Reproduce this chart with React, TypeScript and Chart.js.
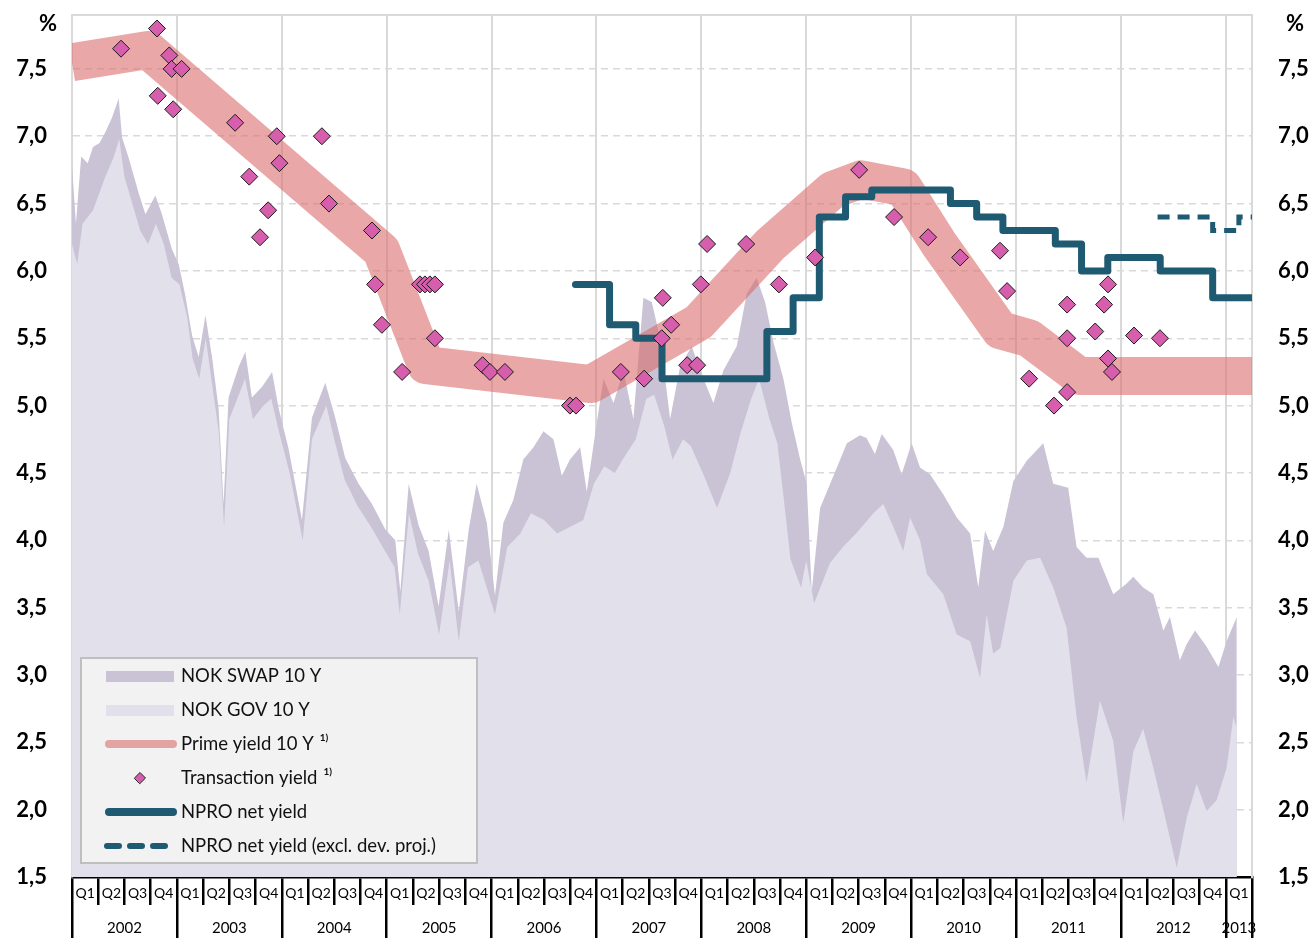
import React, { useEffect, useRef } from 'react';
import { Chart, registerables } from 'chart.js';
Chart.register(...registerables);

const FONT = 'Lato, "Open Sans", "DejaVu Sans", sans-serif';

// ---- axis labels ----
const quarterLabels = [
  'Q1', 'Q2', 'Q3', 'Q4', 'Q1', 'Q2', 'Q3', 'Q4', 'Q1', 'Q2', 'Q3', 'Q4',
  'Q1', 'Q2', 'Q3', 'Q4', 'Q1', 'Q2', 'Q3', 'Q4', 'Q1', 'Q2', 'Q3', 'Q4',
  'Q1', 'Q2', 'Q3', 'Q4', 'Q1', 'Q2', 'Q3', 'Q4', 'Q1', 'Q2', 'Q3', 'Q4',
  'Q1', 'Q2', 'Q3', 'Q4', 'Q1', 'Q2', 'Q3', 'Q4', 'Q1',
];
const yearLabels = ['2002', '2003', '2004', '2005', '2006', '2007', '2008', '2009', '2010', '2011', '2012', '2013'];
const yearBounds = [0, 4, 8, 12, 16, 20, 24, 28, 32, 36, 40, 44, 45];
const yTicks = [1.5, 2.0, 2.5, 3.0, 3.5, 4.0, 4.5, 5.0, 5.5, 6.0, 6.5, 7.0, 7.5];

// ---- NOK SWAP 10 Y (x in quarters since 2002 Q1) ----
const swapQ = [0, 0.15, 0.35, 0.6, 0.8, 1.05, 1.27, 1.53, 1.78, 1.91, 2.16, 2.54, 2.8, 3.18, 3.43, 3.81, 4.07, 4.32, 4.58, 4.83,
  5.09, 5.34, 5.59, 5.78, 5.97, 6.36, 6.61, 6.86, 7.25, 7.63, 7.88, 8.26, 8.77, 9.15, 9.66, 10.04, 10.42, 10.93, 11.44, 11.95,
  12.33, 12.52, 12.84, 13.22, 13.6, 13.98, 14.37, 14.75, 15.13, 15.43, 15.82, 16.13, 16.45, 16.83, 17.21, 17.6, 17.98, 18.36,
  18.68, 18.99, 19.38, 19.63, 20.01, 20.27, 20.65, 21.03, 21.41, 21.79, 22.11, 22.43, 22.81, 23.19, 23.63, 24.08, 24.46, 24.84,
  25.35, 25.73, 26.11, 26.43, 26.75, 27.13, 27.45, 27.77, 28.02, 28.21, 28.53, 29.04, 29.55, 30.05, 30.3, 30.62, 30.88, 31.32,
  31.64, 32.02, 32.34, 32.72, 33.23, 33.74, 34.25, 34.56, 34.82, 35.13, 35.52, 35.9, 36.41, 37.04, 37.42, 37.99, 38.31, 38.69,
  39.14, 39.71, 40.22, 40.47, 40.85, 41.24, 41.62, 41.87, 42.25, 42.51, 42.83, 43.27, 43.72, 44.03, 44.42];
const swapV = [6.78, 6.35, 6.85, 6.8, 6.92, 6.95, 7.03, 7.14, 7.28, 6.99, 6.84, 6.58, 6.42, 6.56, 6.42, 6.16, 6.05, 5.82, 5.52, 5.36,
  5.67, 5.36, 4.98, 4.27, 5.06, 5.29, 5.40, 5.06, 5.14, 5.25, 4.98, 4.68, 4.15, 4.91, 5.17, 4.91, 4.61, 4.42, 4.27, 4.08,
  4.0, 3.62, 4.42, 4.11, 3.92, 3.51, 4.08, 3.47, 4.08, 4.42, 4.13, 3.59, 4.13, 4.30, 4.60, 4.69, 4.81, 4.75,
  4.48, 4.60, 4.69, 4.36, 4.87, 5.20, 5.02, 5.26, 4.90, 5.80, 5.77, 5.50, 4.90, 5.29, 5.44, 5.20, 5.02, 5.26,
  5.44, 5.83, 5.95, 5.77, 5.47, 5.20, 4.87, 4.60, 4.42, 3.62, 4.24, 4.48, 4.72, 4.78, 4.76, 4.64, 4.79, 4.67,
  4.49, 4.72, 4.54, 4.49, 4.34, 4.17, 4.05, 3.65, 4.07, 3.92, 4.10, 4.44, 4.59, 4.72, 4.42, 4.39, 3.95, 3.87,
  3.87, 3.60, 3.68, 3.73, 3.65, 3.60, 3.33, 3.43, 3.11, 3.23, 3.33, 3.21, 3.06, 3.25, 3.43];

// ---- NOK GOV 10 Y ----
const govQ = [0, 0.2, 0.4, 0.8, 1.27, 1.6, 1.8, 2.0, 2.3, 2.6, 2.9, 3.2, 3.5, 3.8, 4.1, 4.4, 4.6, 4.85, 5.1, 5.35, 5.6, 5.8,
  6.0, 6.4, 6.6, 6.9, 7.3, 7.6, 7.9, 8.3, 8.8, 9.15, 9.7, 10.0, 10.4, 10.9, 11.4, 12.0, 12.3, 12.5, 12.85, 13.2, 13.6, 14.0,
  14.4, 14.75, 15.1, 15.5, 16.13, 16.6, 17.1, 17.5, 18.0, 18.5, 19.0, 19.5, 19.9, 20.3, 20.7, 21.0, 21.5, 21.9, 22.2, 22.6,
  22.9, 23.3, 23.6, 24.1, 24.6, 25.1, 25.5, 25.9, 26.2, 26.6, 26.9, 27.15, 27.4, 27.8, 28.0, 28.3, 28.9, 29.4, 29.9, 30.56,
  30.94, 31.32, 31.7, 31.96, 32.34, 32.6, 33.23, 33.74, 34.25, 34.63, 34.88, 35.13, 35.4, 35.9, 36.41, 36.92, 37.42, 37.93,
  38.31, 38.69, 39.2, 39.71, 40.09, 40.47, 40.85, 41.24, 41.62, 42.13, 42.51, 42.89, 43.27, 43.65, 44.03, 44.29, 44.42];
const govV = [6.2, 6.05, 6.35, 6.45, 6.7, 6.85, 6.98, 6.7, 6.5, 6.3, 6.2, 6.35, 6.2, 5.95, 5.9, 5.65, 5.35, 5.2, 5.5, 5.15, 4.8, 4.1,
  4.9, 5.1, 5.2, 4.9, 5.0, 5.05, 4.8, 4.5, 4.0, 4.75, 5.0, 4.75, 4.45, 4.25, 4.1, 3.9, 3.8, 3.45, 4.2, 3.9, 3.7, 3.3,
  3.85, 3.25, 3.8, 3.85, 3.45, 3.95, 4.05, 4.2, 4.15, 4.05, 4.1, 4.15, 4.42, 4.55, 4.5, 4.6, 4.75, 5.05, 5.08, 4.84,
  4.6, 4.75, 4.7, 4.48, 4.24, 4.5, 4.8, 5.05, 5.2, 4.9, 4.72, 4.3, 3.86, 3.65, 3.85, 3.53, 3.83, 3.95, 4.05, 4.2,
  4.27, 4.1, 3.92, 4.17, 4.0, 3.75, 3.6, 3.3, 3.25, 2.98, 3.45, 3.16, 3.2, 3.7, 3.85, 3.87, 3.65, 3.35,
  2.69, 2.2, 2.81, 2.51, 1.9, 2.43, 2.6, 2.31, 2.0, 1.57, 1.94, 2.19, 1.99, 2.07, 2.31, 2.69, 2.6];

// ---- Prime yield 10 Y ----
const primeQ = [0, 2.9, 11.8, 13.5, 19.8, 23.9, 26.6, 29.0, 30.1, 31.7, 33.1, 35.4, 36.5, 38.4, 45];
const primeV = [7.55, 7.64, 6.15, 5.3, 5.16, 5.62, 6.19, 6.6, 6.68, 6.62, 6.19, 5.56, 5.5, 5.22, 5.22];

// ---- Transaction yield ----
const txQ = [1.87, 3.24, 3.27, 3.71, 3.80, 4.18, 3.86, 6.22, 6.76, 7.81, 7.91, 7.48, 7.17, 9.53, 9.80, 11.44, 11.56, 11.82,
  12.59, 13.27, 13.46, 13.65, 13.84, 13.84, 15.66, 15.94, 16.51, 18.99, 19.22, 20.93, 21.82, 22.53, 22.85, 22.49, 23.46,
  23.84, 23.98, 24.22, 25.71, 26.96, 28.34, 30.02, 31.35, 32.65, 33.87, 35.39, 35.66, 36.50, 37.45, 37.95, 37.95, 37.95,
  39.02, 39.36, 39.51, 39.51, 39.66, 40.50, 41.49];
const txV = [7.65, 7.80, 7.30, 7.60, 7.50, 7.50, 7.20, 7.10, 6.70, 7.00, 6.80, 6.45, 6.25, 7.00, 6.50, 6.30, 5.90, 5.60,
  5.25, 5.90, 5.90, 5.90, 5.90, 5.50, 5.30, 5.25, 5.25, 5.00, 5.00, 5.25, 5.20, 5.80, 5.60, 5.50, 5.30,
  5.30, 5.90, 6.20, 6.20, 5.90, 6.10, 6.75, 6.40, 6.25, 6.10, 6.15, 5.85, 5.20, 5.00, 5.10, 5.75, 5.50,
  5.55, 5.75, 5.90, 5.35, 5.25, 5.52, 5.50];

// ---- NPRO net yield (value holds from each x to the next) ----
const nproQ = [19.2, 20.5, 21.5, 22.5, 26.5, 27.5, 28.5, 29.5, 30.5, 33.5, 34.5, 35.5, 37.5, 38.5, 39.5, 41.5, 43.5, 45];
const nproV = [5.9, 5.6, 5.5, 5.2, 5.55, 5.8, 6.4, 6.55, 6.6, 6.5, 6.4, 6.3, 6.2, 6.0, 6.1, 6.0, 5.8, 5.8];
const nproExQ = [41.4, 43.5, 44.5, 45];
const nproExV = [6.4, 6.3, 6.4, 6.4];

const pts = (xs: number[], ys: number[]) => xs.map((x, i) => ({ x, y: ys[i] }));

const C_SWAP = '#c9c3d5';
const C_GOV = '#e2e0eb';
const C_PRIME = 'rgba(218,108,108,0.6)';
const C_PRIME_LEG = '#e4a3a3';
const C_TX = '#d65eac';
const C_NPRO = '#1f5a73';

const legendItems = [
  { kind: 'rect', color: C_SWAP, label: 'NOK SWAP 10 Y', sup: '' },
  { kind: 'rect', color: C_GOV, label: 'NOK GOV 10 Y', sup: '' },
  { kind: 'line', color: C_PRIME_LEG, label: 'Prime yield 10 Y', sup: '1)' },
  { kind: 'diamond', color: C_TX, label: 'Transaction yield', sup: '1)' },
  { kind: 'line', color: C_NPRO, label: 'NPRO net yield', sup: '' },
  { kind: 'dash', color: C_NPRO, label: 'NPRO net yield (excl. dev. proj.)', sup: '' },
];

const overlayPlugin = {
  id: 'overlay',
  afterDraw(chart: any) {
    const { ctx, chartArea } = chart;
    ctx.save();
    ctx.fillStyle = '#000';
    ctx.font = `bold 22px ${FONT}`;
    ctx.textAlign = 'center';
    ctx.textBaseline = 'middle';
    ctx.fillText('%', chartArea.left - 24, 24);
    ctx.fillText('%', chartArea.right + 43, 24);

    // legend box
    const bx = chartArea.left + 9;
    const by = chartArea.bottom - 219;
    const bw = 396;
    const bh = 205;
    ctx.fillStyle = '#f2f2f2';
    ctx.fillRect(bx, by, bw, bh);
    ctx.strokeStyle = '#bfbfbf';
    ctx.lineWidth = 2;
    ctx.strokeRect(bx, by, bw, bh);

    legendItems.forEach((it, i) => {
      const cy = by + 18 + i * 34;
      const x0 = bx + 24;
      const x1 = bx + 94;
      if (it.kind === 'rect') {
        ctx.fillStyle = it.color;
        ctx.fillRect(bx + 25, cy - 5, 68, 11);
      } else if (it.kind === 'line') {
        ctx.strokeStyle = it.color;
        ctx.lineWidth = 8;
        ctx.lineCap = 'round';
        ctx.setLineDash([]);
        ctx.beginPath();
        ctx.moveTo(x0 + 4, cy);
        ctx.lineTo(x1 - 2, cy);
        ctx.stroke();
      } else if (it.kind === 'dash') {
        ctx.strokeStyle = it.color;
        ctx.lineWidth = 6;
        ctx.lineCap = 'round';
        ctx.setLineDash([12, 11]);
        ctx.beginPath();
        ctx.moveTo(x0 + 2, cy);
        ctx.lineTo(x0 + 60, cy);
        ctx.stroke();
        ctx.setLineDash([]);
      } else {
        const dx = bx + 59;
        const r = 5.5;
        ctx.fillStyle = it.color;
        ctx.strokeStyle = '#222';
        ctx.lineWidth = 1;
        ctx.beginPath();
        ctx.moveTo(dx - r, cy);
        ctx.lineTo(dx, cy - r);
        ctx.lineTo(dx + r, cy);
        ctx.lineTo(dx, cy + r);
        ctx.closePath();
        ctx.fill();
        ctx.stroke();
      }
      ctx.fillStyle = '#111';
      ctx.font = `18.5px ${FONT}`;
      ctx.textAlign = 'left';
      ctx.textBaseline = 'middle';
      const tx = bx + 100;
      ctx.fillText(it.label, tx, cy);
      if (it.sup) {
        const w = ctx.measureText(it.label).width;
        ctx.font = `bold 10px ${FONT}`;
        ctx.fillText(it.sup, tx + w + 6, cy - 6);
      }
    });
    ctx.restore();
  },
};

const fmt = (v: number) => v.toFixed(1).replace('.', ',');

const zeroPad = (s: any) => {
  s.paddingTop = 0;
  s.paddingBottom = 0;
  s.paddingLeft = 0;
  s.paddingRight = 0;
};

export default function App() {
  const ref = useRef<HTMLCanvasElement>(null);

  useEffect(() => {
    const yearCenters = yearLabels.map((_, i) => (yearBounds[i] + yearBounds[i + 1]) / 2);
    const chart = new Chart(ref.current as HTMLCanvasElement, {
      type: 'line',
      data: {
        labels: quarterLabels,
        datasets: [
          {
            type: 'scatter',
            label: 'Transaction yield',
            data: pts(txQ, txV),
            xAxisID: 'xd',
            yAxisID: 'y',
            showLine: false,
            pointStyle: 'rectRot',
            pointRadius: 8.5,
            backgroundColor: C_TX,
            borderColor: '#1a1a1a',
            borderWidth: 1,
            order: 0,
            clip: false,
          } as any,
          {
            label: 'NPRO net yield',
            data: pts(nproQ, nproV),
            xAxisID: 'xd',
            yAxisID: 'y',
            stepped: true,
            borderColor: C_NPRO,
            borderWidth: 7,
            borderJoinStyle: 'round',
            borderCapStyle: 'round',
            pointRadius: 0,
            fill: false,
            order: 1,
            clip: 0,
          } as any,
          {
            label: 'NPRO net yield (excl. dev. proj.)',
            data: pts(nproExQ, nproExV),
            xAxisID: 'xd',
            yAxisID: 'y',
            stepped: true,
            borderColor: C_NPRO,
            borderWidth: 5,
            borderDash: [12, 8],
            pointRadius: 0,
            fill: false,
            order: 2,
            clip: 0,
          } as any,
          {
            label: 'Prime yield 10 Y',
            data: pts(primeQ, primeV),
            xAxisID: 'xd',
            yAxisID: 'y',
            borderColor: C_PRIME,
            borderWidth: 38,
            borderJoinStyle: 'round',
            borderCapStyle: 'butt',
            pointRadius: 0,
            fill: false,
            order: 3,
            clip: 0,
          } as any,
          {
            label: 'NOK GOV 10 Y',
            data: pts(govQ, govV),
            xAxisID: 'xd',
            yAxisID: 'y',
            borderWidth: 0,
            borderColor: 'rgba(0,0,0,0)',
            backgroundColor: C_GOV,
            pointRadius: 0,
            fill: 'start',
            order: 4,
            clip: 0,
          } as any,
          {
            label: 'NOK SWAP 10 Y',
            data: pts(swapQ, swapV),
            xAxisID: 'xd',
            yAxisID: 'y',
            borderWidth: 0,
            borderColor: 'rgba(0,0,0,0)',
            backgroundColor: C_SWAP,
            pointRadius: 0,
            fill: 'start',
            order: 5,
            clip: 0,
          } as any,
        ],
      },
      options: {
        animation: false,
        responsive: false,
        events: [],
        layout: { padding: { top: 15, left: 0, right: 0, bottom: 0 } },
        plugins: { legend: { display: false }, tooltip: { enabled: false } },
        scales: {
          xd: {
            type: 'linear',
            position: 'top',
            min: 0,
            max: 45,
            afterBuildTicks: (s: any) => { s.ticks = yearBounds.map((v) => ({ value: v })); },
            afterFit: (s: any) => { s.height = 0; zeroPad(s); },
            ticks: { display: false },
            grid: { color: '#d9d9d9', lineWidth: 2, drawTicks: false },
            border: { display: true, color: '#d9d9d9', width: 2 },
          },
          x: {
            type: 'category',
            labels: quarterLabels,
            position: 'bottom',
            weight: 0,
            offset: true,
            afterFit: (s: any) => { s.height = 28; zeroPad(s); },
            grid: { offset: true, drawOnChartArea: false, drawTicks: true, tickLength: 28, color: '#000', lineWidth: 2.5 },
            border: { display: true, color: '#000', width: 2.5 },
            ticks: {
              autoSkip: false,
              maxRotation: 0,
              minRotation: 0,
              color: '#000',
              padding: -20,
              font: { family: FONT, size: 14 },
            },
          },
          xYear: {
            type: 'linear',
            position: 'bottom',
            weight: 1,
            min: 0,
            max: 45,
            afterBuildTicks: (s: any) => {
              const all = [...yearBounds, ...yearCenters].sort((a, b) => a - b);
              s.ticks = all.map((v) => ({ value: v }));
            },
            afterFit: (s: any) => { s.height = 33; zeroPad(s); },
            grid: {
              drawOnChartArea: false,
              drawTicks: true,
              tickLength: 33,
              lineWidth: 2.5,
              color: (c: any) => (c.tick && yearBounds.includes(c.tick.value) ? '#000' : 'rgba(0,0,0,0)'),
            },
            border: { display: false },
            ticks: {
              autoSkip: false,
              maxRotation: 0,
              minRotation: 0,
              color: '#000',
              padding: -19,
              font: { family: FONT, size: 15 },
              callback: (v: any) => {
                const i = yearCenters.indexOf(Number(v));
                return i >= 0 ? yearLabels[i] : '';
              },
            },
          },
          y: {
            type: 'linear',
            position: 'left',
            min: 1.5,
            max: 7.9,
            afterBuildTicks: (s: any) => { s.ticks = yTicks.map((v) => ({ value: v })); },
            afterFit: (s: any) => { s.width = 72; zeroPad(s); },
            grid: {
              drawTicks: false,
              lineWidth: 1.5,
              color: (c: any) => (c.tick && c.tick.value === 1.5 ? 'rgba(0,0,0,0)' : '#d9d9d9'),
            },
            border: { display: true, color: '#d9d9d9', width: 2, dash: [7, 5] },
            ticks: {
              color: '#000',
              padding: 25,
              font: { family: FONT, size: 22, weight: 'bold' },
              callback: (v: any) => fmt(Number(v)),
            },
          },
          y2: {
            type: 'linear',
            position: 'right',
            min: 1.5,
            max: 7.9,
            afterBuildTicks: (s: any) => { s.ticks = yTicks.map((v) => ({ value: v })); },
            afterFit: (s: any) => { s.width = 62; zeroPad(s); },
            grid: { drawOnChartArea: false, drawTicks: false },
            border: { display: true, color: '#d9d9d9', width: 2 },
            ticks: {
              color: '#000',
              padding: 26,
              font: { family: FONT, size: 22, weight: 'bold' },
              callback: (v: any) => fmt(Number(v)),
            },
          },
        },
      } as any,
      plugins: [overlayPlugin],
    });
    return () => chart.destroy();
  }, []);

  return (
    <div style={{ position: 'fixed', left: 0, top: 0, width: 1314, height: 938, background: '#fff' }}>
      <canvas ref={ref} width={1314} height={938} style={{ display: 'block', width: 1314, height: 938 }} />
    </div>
  );
}
